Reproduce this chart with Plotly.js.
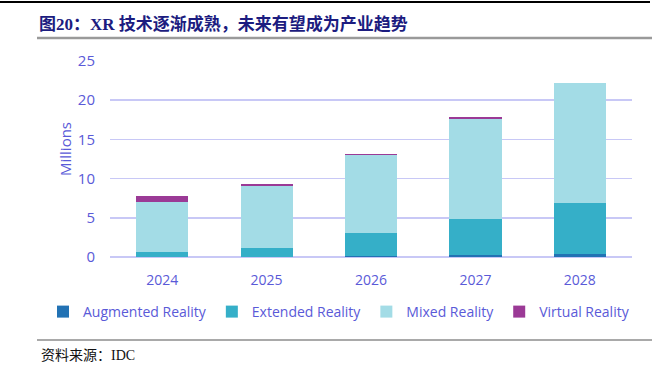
<!DOCTYPE html>
<html>
<head>
<meta charset="utf-8">
<script src="https://cdn.plot.ly/plotly-3.0.1.min.js"></script>
<style>html,body{margin:0;padding:0;background:#fff;}#chart{width:666px;height:368px;}</style>
</head>
<body>
<div id="chart"></div>
<script>
// ---- data ----
var years = ['2024', '2025', '2026', '2027', '2028'];
var augmentedReality = [0.05, 0.05, 0.1, 0.3, 0.4];
var extendedReality = [0.55, 1.15, 2.95, 4.6, 6.45];
var mixedReality = [6.4, 7.8, 9.95, 12.75, 15.35];
var virtualReality = [0.75, 0.3, 0.15, 0.15, 0.05];
var seriesNames = ['Augmented Reality', 'Extended Reality', 'Mixed Reality', 'Virtual Reality'];
var yTicks = [0, 5, 10, 15, 20, 25];

var colors = ['#2272b4', '#35afc8', '#a3dce6', '#9b3a96'];
var axisColor = '#5a5ad8';
var values = [augmentedReality, extendedReality, mixedReality, virtualReality];

var traces = values.map(function (v, i) {
  return {
    type: 'bar', x: years, y: v, name: seriesNames[i],
    marker: {color: colors[i], line: {width: 0}},
    hoverinfo: 'skip'
  };
});

var L = 110, R = 34, T = 61, B = 111;
var W = 666 - L - R, H = 368 - T - B;
function px(x) { return (x - L) / W; }
function py(y) { return (368 - B - y) / H; }

var layout = {
  width: 666, height: 368,
  margin: {l: L, r: R, t: T, b: B},
  paper_bgcolor: '#ffffff', plot_bgcolor: '#ffffff',
  barmode: 'stack', bargap: 0.5,
  font: {family: '"Open Sans", sans-serif', color: axisColor, size: 14},
  title: {
    text: '<b>图20：XR 技术逐渐成熟，未来有望成为产业趋势</b>',
    x: 39 / 666, xanchor: 'left', xref: 'container',
    y: 1 - 24 / 368, yanchor: 'middle', yref: 'container',
    font: {family: '"Liberation Serif", "Noto Sans CJK SC", serif', size: 17, color: '#1c1c80'}
  },
  xaxis: {
    showgrid: false, zeroline: false, showline: false,
    ticks: '', ticklabelstandoff: 13,
    tickfont: {size: 14, color: axisColor}, fixedrange: true
  },
  yaxis: {
    range: [0, 25], tickvals: yTicks, ticktext: yTicks.map(String),
    showgrid: true, gridcolor: '#c8c8f6', gridwidth: 1.5,
    zeroline: true, zerolinecolor: '#c8c8f6', zerolinewidth: 1.5,
    showline: false, ticks: '', ticklabelstandoff: 14,
    tickfont: {size: 15, color: axisColor}, fixedrange: true
  },
  showlegend: true,
  legend: {
    orientation: 'h', x: px(43), xanchor: 'left', y: py(312), yanchor: 'middle',
    font: {size: 14, color: axisColor}, traceorder: 'normal',
    bgcolor: 'rgba(0,0,0,0)'
  },
  annotations: [
    {text: 'Millions', textangle: -90, xref: 'paper', yref: 'paper',
     x: px(65), y: py(149), xanchor: 'center', yanchor: 'middle', showarrow: false,
     font: {size: 15, color: axisColor}},
    {text: '资料来源：IDC', xref: 'paper', yref: 'paper',
     x: px(39), y: py(355), xanchor: 'left', yanchor: 'middle', showarrow: false,
     font: {family: '"Liberation Serif", "Noto Sans CJK SC", serif', size: 14, color: '#111111'}}
  ],
  shapes: [
    {type: 'line', xref: 'paper', yref: 'paper', x0: px(0), x1: px(650), y0: py(2), y1: py(2),
     line: {color: '#000000', width: 2}},
    {type: 'line', xref: 'paper', yref: 'paper', x0: px(37), x1: px(652), y0: py(38), y1: py(38),
     line: {color: '#9a9a9a', width: 2.5}},
    {type: 'line', xref: 'paper', yref: 'paper', x0: px(37), x1: px(652), y0: py(340), y1: py(340),
     line: {color: '#555555', width: 1.2}}
  ]
};

Plotly.newPlot('chart', traces, layout, {displayModeBar: false, staticPlot: true});
</script>
</body>
</html>
